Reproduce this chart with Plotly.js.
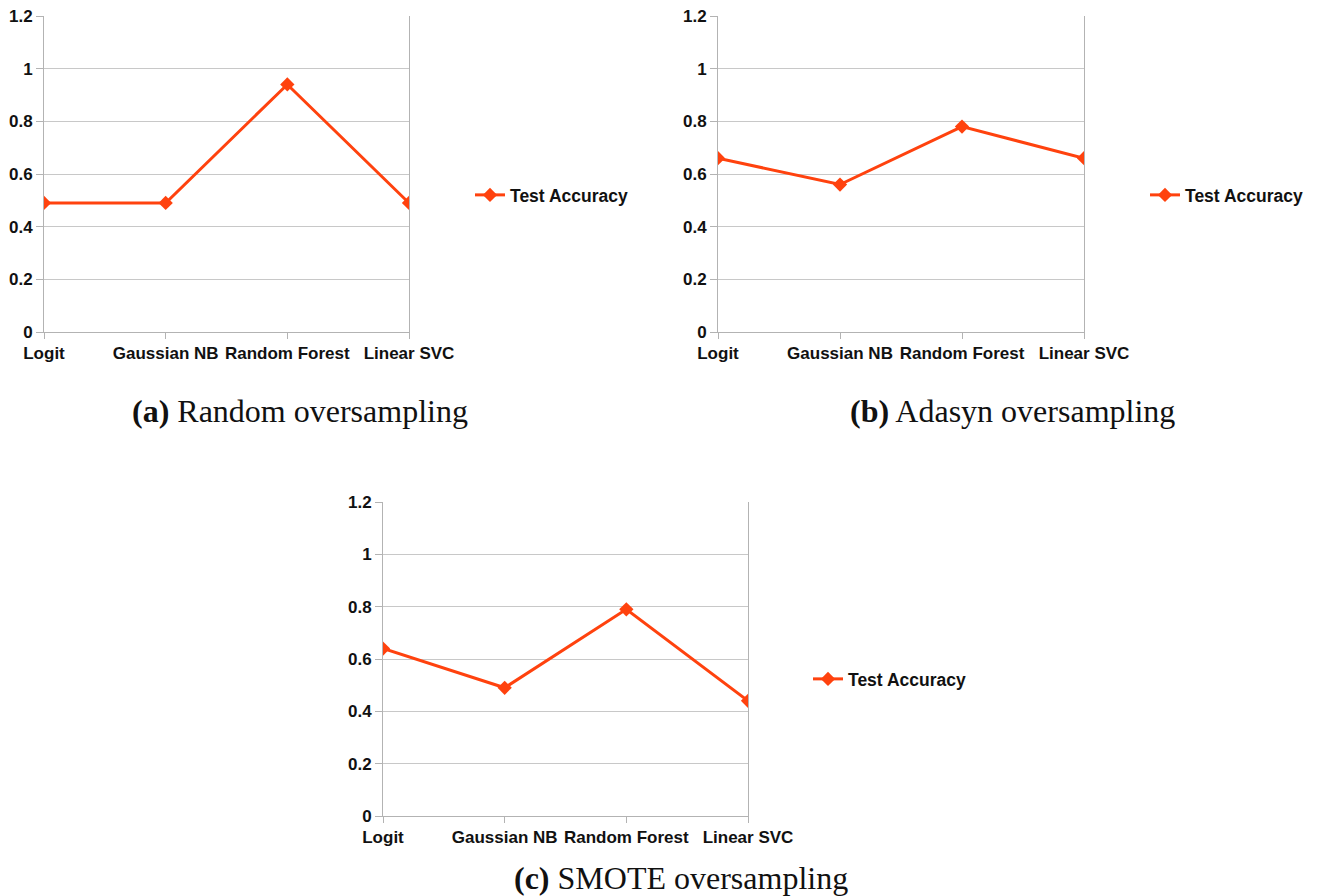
<!DOCTYPE html>
<html>
<head>
<meta charset="utf-8">
<script src="https://cdn.plot.ly/plotly-3.0.1.min.js"></script>
<style>
  html, body { margin: 0; padding: 0; background: #ffffff; }
  #chart { width: 1318px; height: 896px; }
</style>
</head>
<body>
<div id="chart"></div>
<script>
// ---- Data ----
const categories = ["Logit", "Gaussian NB", "Random Forest", "Linear SVC"];
const randomOversampling = [0.49, 0.49, 0.94, 0.49];
const adasynOversampling = [0.66, 0.56, 0.78, 0.66];
const smoteOversampling = [0.64, 0.49, 0.79, 0.44];
const seriesName = "Test Accuracy";
const yTickValues = [0, 0.2, 0.4, 0.6, 0.8, 1, 1.2];
const yTickLabels = ["0", "0.2", "0.4", "0.6", "0.8", "1", "1.2"];
const captions = ["<b>(a)</b> Random oversampling", "<b>(b)</b> Adasyn oversampling", "<b>(c)</b> SMOTE oversampling"];

// ---- Styling ----
const W = 1318, H = 896;
const lineColor = "#ff420e";
const gridColor = "#c8c8c8";
const axisColor = "#b3b3b3";
const labelFont = { family: "Liberation Sans, Arial, sans-serif", size: 17, color: "#111111", weight: 700 };
const legendFont = { family: "Liberation Sans, Arial, sans-serif", size: 17.5, color: "#111111", weight: 700 };

function px(x) { return x / W; }
function py(y) { return 1 - y / H; }

function makeTrace(values, xa, ya, legendId) {
  return {
    type: "scatter", mode: "lines+markers",
    x: categories, y: values, xaxis: xa, yaxis: ya,
    name: seriesName, legend: legendId,
    line: { color: lineColor, width: 3 },
    marker: { symbol: "diamond", size: 11, color: lineColor },
    showlegend: true
  };
}

function xAxis(x0, x1, anchor) {
  return {
    type: "category", categoryorder: "array", categoryarray: categories,
    domain: [px(x0), px(x1)], anchor: anchor, range: [0, categories.length - 1],
    showgrid: false, zeroline: false, showline: true, linecolor: axisColor, linewidth: 1,
    ticks: "outside", ticklen: 6, tickcolor: axisColor, tickfont: labelFont, fixedrange: true
  };
}

function yAxis(yTop, yBottom, anchor) {
  return {
    domain: [py(yBottom), py(yTop)], anchor: anchor, range: [0, 1.2],
    tickmode: "array", tickvals: yTickValues, ticktext: yTickLabels,
    showgrid: true, gridcolor: gridColor, gridwidth: 1, zeroline: false,
    showline: true, mirror: true, linecolor: axisColor, linewidth: 1,
    ticks: "outside", ticklen: 7, tickcolor: axisColor, tickfont: labelFont, fixedrange: true
  };
}

const data = [
  makeTrace(randomOversampling, "x", "y", "legend"),
  makeTrace(adasynOversampling, "x2", "y2", "legend2"),
  makeTrace(smoteOversampling, "x3", "y3", "legend3")
];

function legendAt(xPix, yPix) {
  return {
    x: px(xPix), y: py(yPix), xanchor: "left", yanchor: "middle",
    xref: "paper", yref: "paper", bgcolor: "rgba(0,0,0,0)", borderwidth: 0, font: legendFont
  };
}

const captionFont = { family: "Liberation Serif, Times New Roman, serif", size: 32, color: "#111111" };

const layout = {
  width: W, height: H,
  margin: { l: 0, r: 0, t: 0, b: 0 },
  paper_bgcolor: "#ffffff", plot_bgcolor: "#ffffff",
  xaxis: xAxis(44, 409, "y"),
  yaxis: yAxis(16, 332, "x"),
  xaxis2: xAxis(718, 1084, "y2"),
  yaxis2: yAxis(16, 332, "x2"),
  xaxis3: xAxis(383, 748, "y3"),
  yaxis3: yAxis(502, 816, "x3"),
  legend: legendAt(470, 195),
  legend2: legendAt(1145, 195),
  legend3: legendAt(808, 679),
  annotations: [
    { text: captions[0], x: px(300), y: py(411), xref: "paper", yref: "paper", showarrow: false, xanchor: "center", yanchor: "middle", font: captionFont },
    { text: captions[1], x: px(1012), y: py(411), xref: "paper", yref: "paper", showarrow: false, xanchor: "center", yanchor: "middle", font: captionFont },
    { text: captions[2], x: px(681), y: py(878), xref: "paper", yref: "paper", showarrow: false, xanchor: "center", yanchor: "middle", font: captionFont }
  ]
};

Plotly.newPlot("chart", data, layout, { displayModeBar: false, staticPlot: true });
</script>
</body>
</html>
